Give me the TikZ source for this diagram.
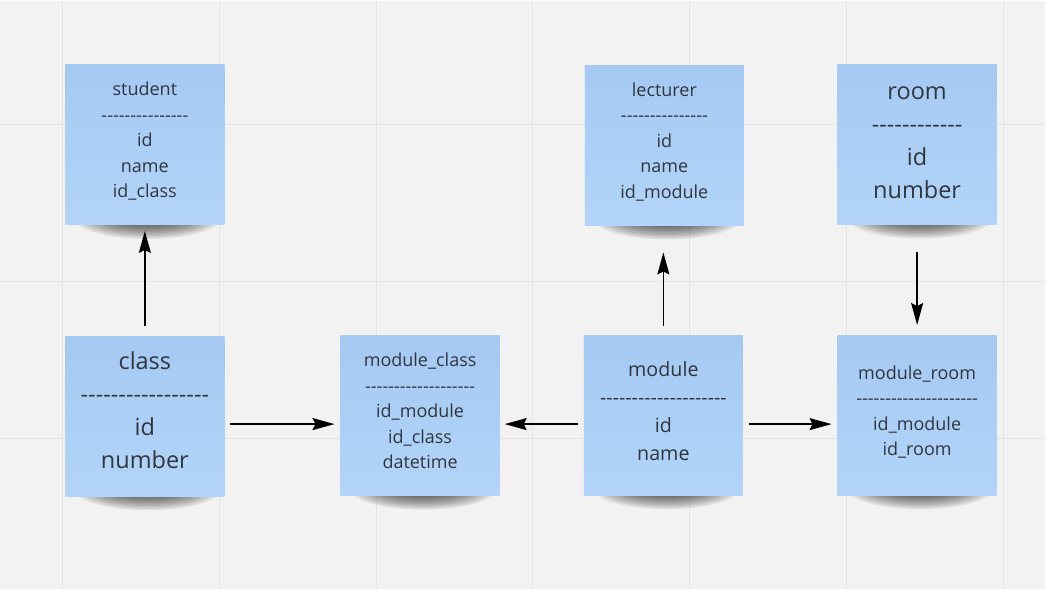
\documentclass[tikz,border=0pt]{standalone}
\usepackage{fontspec}
\setmainfont{Open Sans}
\usetikzlibrary{arrows.meta,calc}

\definecolor{board}{HTML}{F2F2F2}
\definecolor{gridcol}{HTML}{E4E4E4}
\definecolor{notetop}{HTML}{A5C9F2}
\definecolor{notebot}{HTML}{B2D4F8}
\definecolor{notetext}{HTML}{2F3640}

\newcommand{\dashrow}[1]{\foreach \n in {1,...,#1}{-\kern0pt}}

\pgfdeclarelayer{background}
\pgfsetlayers{background,main}

\tikzset{
  note/.style={rectangle, inner sep=0pt, minimum width=159pt, minimum height=160pt,
    top color=notetop, bottom color=notebot},
  fields/.style={text=notetext, align=center, inner sep=0pt},
  smalltext/.style={fields, font=\fontsize{18}{25.5}\selectfont},
  midtext/.style={fields, font=\fontsize{19.7}{28}\selectfont},
  bigtext/.style={fields, font=\fontsize{23.5}{33}\selectfont},
  link/.style={-{Stealth[length=22pt,width=12pt,inset=3pt]}, line width=1.5pt, black},
  shadowring/.style={fill=black, opacity=0.07},
  gridline/.style={draw=gridcol, line width=1pt}
}

\begin{document}
\begin{tikzpicture}[x=1pt,y=-1pt]
    \begin{pgfonlayer}{background}
        \fill[board] (0,0) rectangle (1045,589);
        \foreach \k in {0,...,6}
            \draw[gridline] ({62+157*\k},0) -- ({62+157*\k},589);
        \foreach \k in {0,1,2}
            \draw[gridline] (0,{124+157*\k}) -- (1045,{124+157*\k});
    \end{pgfonlayer}
    \useasboundingbox (0,0) rectangle (1045,589);

    \node[note] (student)   at (144.5,144.5) {};
    \node[note] (lecturer)  at (664.5,145)   {};
    \node[note] (room)      at (917.5,144)   {};
    \node[note] (class)     at (144.5,416)   {};
    \node[note] (modclass)  at (420,415.5)   {};
    \node[note] (module)    at (663.5,415)   {};
    \node[note] (modroom)   at (917.5,415)   {};

    \node[smalltext] (student-f)  at ([yshift=3.5pt]student.center)  {student\\\dashrow{15}\\id\\name\\id\_class};
    \node[smalltext] (lecturer-f) at ([yshift=3.5pt]lecturer.center) {lecturer\\\dashrow{15}\\id\\name\\id\_module};
    \node[bigtext]   (room-f)     at ([yshift=2pt]room.center)       {room\\\dashrow{12}\\id\\number};
    \node[bigtext]   (class-f)    at ([yshift=6pt]class.center)      {class\\\dashrow{17}\\id\\number};
    \node[smalltext] (modclass-f) at ([yshift=4.5pt]modclass.center) {module\_class\\\dashrow{19}\\id\_module\\id\_class\\datetime};
    \node[midtext]   (module-f)   at ([yshift=4pt]module.center)     {module\\\dashrow{20}\\id\\name};
    \node[smalltext] (modroom-f)  at ([yshift=3pt]modroom.center)    {module\_room\\\dashrow{21}\\id\_module\\id\_room};

    \begin{pgfonlayer}{background}
        \foreach \n in {student,lecturer,room,class,modclass,module,modroom}
            \foreach \i in {0,...,9}
                \fill[shadowring] ($(\n.south)+(3,-6)$) ellipse [x radius={(72-4*\i)*1pt}, y radius={(20-1.4*\i)*1pt}];
    \end{pgfonlayer}

    \draw[link, shorten <=10pt, shorten >=6pt] (class.north) -- (student.south);
    \draw[link, shorten <=9pt, shorten >=27pt] (module.north) -- (module.north |- lecturer.south);
    \draw[link, shorten <=28pt, shorten >=10pt] (room.south) -- (room.south |- modroom.north);
    \draw[link, shorten <=6pt, shorten >=6pt] ([yshift=-8pt]class.east) -- ([yshift=-8pt]class.east -| modclass.west);
    \draw[link, shorten <=6pt, shorten >=5pt] ([yshift=-9pt]module.west) -- ([yshift=-9pt]module.west -| modclass.east);
    \draw[link, shorten <=6pt, shorten >=6pt] ([yshift=-9pt]module.east) -- ([yshift=-9pt]module.east -| modroom.west);
\end{tikzpicture}
\end{document}
